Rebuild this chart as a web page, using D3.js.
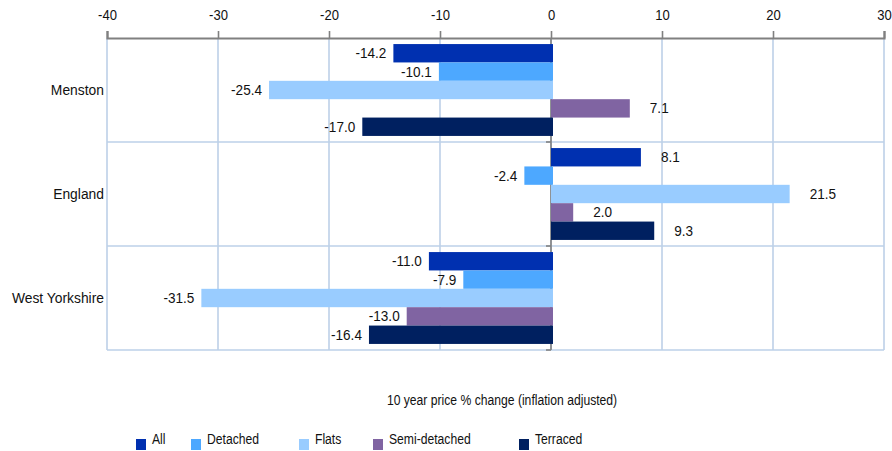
<!DOCTYPE html>
<html>
<head>
<meta charset="utf-8">
<script src="https://cdn.jsdelivr.net/npm/d3@7"></script>
<style>
  html, body { margin: 0; padding: 0; background: #fff; }
  svg { display: block; font-family: "Liberation Sans", Arial, sans-serif; }
</style>
</head>
<body>
<svg id="chart" width="892" height="451"></svg>
<script>
const categories = ["Menston", "England", "West Yorkshire"];
const seriesNames = ["All", "Detached", "Flats", "Semi-detached", "Terraced"];
const menstonValues = [-14.2, -10.1, -25.4, 7.1, -17.0];
const englandValues = [8.1, -2.4, 21.5, 2.0, 9.3];
const westYorkshireValues = [-11.0, -7.9, -31.5, -13.0, -16.4];
const tickValues = [-40, -30, -20, -10, 0, 10, 20, 30];
const seriesColors = ["#0030B0", "#4DA8FF", "#99CCFF", "#8064A2", "#002060"];
const axisTitle = "10 year price % change (inflation adjusted)";

const valuesByCategory = [menstonValues, englandValues, westYorkshireValues];

const svg = d3.select("#chart");
const plotLeft = 107, plotRight = 884, plotTop = 38, plotBottom = 350;

const x = d3.scaleLinear().domain([-40, 30]).range([plotLeft, plotRight]);
const y = d3.scaleBand().domain(categories).range([plotTop, plotBottom]).padding(0);
const ySub = d3.scaleBand().domain(seriesNames).range([0, y.bandwidth()]).paddingInner(0).paddingOuter(0.33);

// gridlines
const grid = svg.append("g");
grid.selectAll("line.v").data(tickValues).join("line")
  .attr("x1", d => x(d)).attr("x2", d => x(d))
  .attr("y1", plotTop).attr("y2", plotBottom)
  .attr("stroke", "#BDD0E8").attr("stroke-width", 1.6);
const hLines = categories.map(c => y(c) + y.bandwidth());
grid.selectAll("line.h").data(hLines).join("line")
  .attr("x1", plotLeft).attr("x2", plotRight)
  .attr("y1", d => d).attr("y2", d => d)
  .attr("stroke", "#BDD0E8").attr("stroke-width", 1.6);

// zero (category) axis
const zeroAxis = svg.append("g");
zeroAxis.append("line")
  .attr("x1", x(0)).attr("x2", x(0)).attr("y1", plotTop).attr("y2", plotBottom)
  .attr("stroke", "#808080").attr("stroke-width", 1.6);
zeroAxis.selectAll("line.t").data(hLines).join("line")
  .attr("x1", x(0) - 5).attr("x2", x(0))
  .attr("y1", d => d).attr("y2", d => d)
  .attr("stroke", "#808080").attr("stroke-width", 1.6);

// bars
const barData = [];
categories.forEach((c, ci) => {
  seriesNames.forEach((s, si) => {
    barData.push({ cat: c, series: s, value: valuesByCategory[ci][si], color: seriesColors[si] });
  });
});

const bars = svg.append("g");
bars.selectAll("rect").data(barData).join("rect")
  .attr("x", d => d.value < 0 ? x(d.value) : x(0))
  .attr("width", d => Math.abs(x(d.value) - x(0)) + (d.value < 0 ? 2 : 0))
  .attr("y", d => y(d.cat) + ySub(d.series))
  .attr("height", ySub.bandwidth())
  .attr("fill", d => d.color);

// value labels
svg.append("g").selectAll("text").data(barData).join("text")
  .attr("transform", d => `translate(${d.value < 0 ? x(d.value) - 7 : x(d.value) + 20},${y(d.cat) + ySub(d.series) + ySub.bandwidth() / 2}) scale(0.95,1)`)
  .attr("dy", "0.35em")
  .attr("text-anchor", d => d.value < 0 ? "end" : "start")
  .attr("font-size", 14.3)
  .attr("fill", "#111")
  .text(d => d.value.toFixed(1));

// top axis
const xAxis = d3.axisTop(x).tickValues(tickValues).tickSize(7).tickPadding(11)
  .tickFormat(d => String(d));
const gx = svg.append("g").attr("transform", `translate(0,${plotTop})`).call(xAxis);
gx.select(".domain").attr("stroke", "#808080").attr("stroke-width", 2.2);
gx.selectAll(".tick line").attr("stroke", "#808080").attr("stroke-width", 1.6);
gx.selectAll(".tick text").attr("font-size", 14.8).attr("fill", "#111")
  .attr("transform", "scale(0.88,1)")
  .attr("font-family", "Liberation Sans, Arial, sans-serif");

// category labels
svg.append("g").selectAll("text").data(categories).join("text")
  .attr("transform", d => `translate(104,${y(d) + y.bandwidth() / 2}) scale(0.95,1)`)
  .attr("dy", "0.35em")
  .attr("text-anchor", "end")
  .attr("font-size", 14.6)
  .attr("fill", "#111")
  .text(d => d);

// axis title
svg.append("text")
  .attr("transform", "translate(502,400) scale(0.8,1)")
  .attr("dy", "0.35em")
  .attr("text-anchor", "middle")
  .attr("font-size", 15.2).attr("fill", "#111")
  .text(axisTitle);

// legend
const legendX = [136, 191, 299, 373, 519];
const lg = svg.append("g").selectAll("g").data(seriesNames).join("g")
  .attr("transform", (d, i) => `translate(${legendX[i]},439)`);
lg.append("rect").attr("width", 10).attr("height", 11)
  .attr("fill", (d, i) => seriesColors[i]);
lg.append("text").attr("transform", "translate(16,0) scale(0.8,1)").attr("dy", "0.35em")
  .attr("font-size", 15.2).attr("fill", "#111").text(d => d);
</script>
</body>
</html>
